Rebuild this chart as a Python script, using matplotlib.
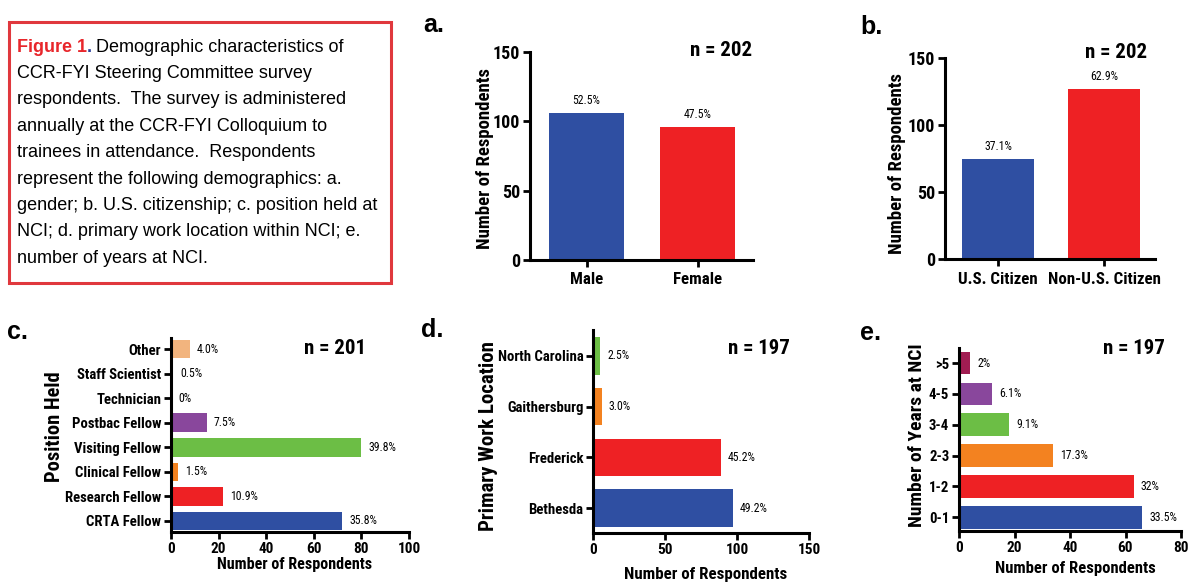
import matplotlib
matplotlib.use('Agg')
import matplotlib.pyplot as plt
from matplotlib.patches import Rectangle

W, H = 1189, 582

blue = '#2F4FA2'
red = '#EE2124'
orange = '#F38220'
green = '#6CBE45'
purple = '#89479C'
maroon = '#A11D52'
peach = '#F2B47E'
gray = '#8C8C8C'

# a. gender
gender_cats = ['Male', 'Female']
gender_vals = [106, 96]
gender_pct = ['52.5%', '47.5%']

# b. citizenship
cit_cats = ['U.S. Citizen', 'Non-U.S. Citizen']
cit_vals = [75, 127]
cit_pct = ['37.1%', '62.9%']

# c. position held (bottom to top)
pos_cats = ['CRTA Fellow', 'Research Fellow', 'Clinical Fellow', 'Visiting Fellow',
            'Postbac Fellow', 'Technician', 'Staff Scientist', 'Other']
pos_vals = [72, 22, 3, 80, 15, 0, 1, 8]
pos_pct = ['35.8%', '10.9%', '1.5%', '39.8%', '7.5%', '0%', '0.5%', '4.0%']
pos_colors = [blue, red, orange, green, purple, gray, gray, peach]

# d. work location
loc_cats = ['Bethesda', 'Frederick', 'Gaithersburg', 'North Carolina']
loc_vals = [97, 89, 6, 5]
loc_pct = ['49.2%', '45.2%', '3.0%', '2.5%']
loc_colors = [blue, red, orange, green]

# e. years at NCI
yrs_cats = ['0-1', '1-2', '2-3', '3-4', '4-5', '>5']
yrs_vals = [66, 63, 34, 18, 12, 4]
yrs_pct = ['33.5%', '32%', '17.3%', '9.1%', '6.1%', '2%']
yrs_colors = [blue, red, orange, green, purple, maroon]

COND = ['Roboto Condensed', 'Liberation Sans', 'DejaVu Sans']
plt.rcParams['font.family'] = COND

fig = plt.figure(figsize=(W / 100, H / 100), dpi=100)


def px_axes(x0, y0, x1, y1):
    return fig.add_axes([x0 / W, 1 - y1 / H, (x1 - x0) / W, (y1 - y0) / H])


def ftext(x, y, s, **kw):
    return fig.text(x / W, 1 - y / H, s, **kw)


def label(x, y, s, size, rot=0):
    ftext(x, y, s, fontsize=size, fontweight='bold', rotation=rot,
          ha='center', va='center')


def style(ax, size):
    for s in ['top', 'right']:
        ax.spines[s].set_visible(False)
    for s in ['left', 'bottom']:
        ax.spines[s].set_linewidth(2.2)
    ax.tick_params(width=2, length=5, labelsize=size, pad=2)
    for lab in ax.get_xticklabels() + ax.get_yticklabels():
        lab.set_fontweight('bold')


def vbar(ax, cats, vals, pct, colors, xlim):
    ax.bar(range(len(cats)), vals, width=0.68, color=colors)
    ax.set_xticks(range(len(cats)))
    ax.set_xticklabels(cats)
    ax.set_xlim(*xlim)
    ax.set_ylim(0, 150)
    ax.set_yticks([0, 50, 100, 150])
    style(ax, 13)
    ax.tick_params(axis='x', labelsize=12.2, pad=4)
    for i, (v, p) in enumerate(zip(vals, pct)):
        ax.annotate(p, (i, v), xytext=(0, 4), textcoords='offset points',
                    ha='center', va='bottom', fontsize=8.5)


def hbar(ax, cats, vals, pct, colors, xlim, ylim, xticks, h):
    ax.barh(range(len(cats)), vals, height=h, color=colors)
    ax.set_yticks(range(len(cats)))
    ax.set_yticklabels(cats)
    ax.set_xlim(*xlim)
    ax.set_ylim(*ylim)
    ax.set_xticks(xticks)
    style(ax, 11)
    ax.tick_params(axis='y', labelsize=10.6)
    for i, (v, p) in enumerate(zip(vals, pct)):
        ax.annotate(p, (v, i), xytext=(5, 0), textcoords='offset points',
                    ha='left', va='center', fontsize=8.5)


# panel a
axa = px_axes(530, 52, 753, 260)
vbar(axa, gender_cats, gender_vals, gender_pct, [blue, red], (-0.51, 1.5))
label(485, 159, 'Number of Respondents', 13.5, 90)

# panel b
axb = px_axes(945, 58, 1155, 259)
vbar(axb, cit_cats, cit_vals, cit_pct, [blue, red], (-0.5, 1.48))
label(897, 164, 'Number of Respondents', 13.5, 90)

# panel c
axc = px_axes(171, 338, 409, 532)
hbar(axc, pos_cats, pos_vals, pos_pct, pos_colors, (0, 100), (-0.45, 7.45),
     [0, 20, 40, 60, 80, 100], 0.76)
label(295, 564, 'Number of Respondents', 11.6)
label(55, 427, 'Position Held', 14.8, 90)

# panel d
axd = px_axes(593, 330, 809, 533)
hbar(axd, loc_cats, loc_vals, loc_pct, loc_colors, (0, 150), (-0.49, 3.51),
     [0, 50, 100, 150], 0.74)
label(706, 574, 'Number of Respondents', 12.2)
label(488, 436, 'Primary Work Location', 15, 90)

# panel e
axe = px_axes(959, 348, 1181, 531)
hbar(axe, yrs_cats, yrs_vals, yrs_pct, yrs_colors, (0, 80), (-0.45, 5.49),
     [0, 20, 40, 60, 80], 0.74)
label(1075, 568, 'Number of Respondents', 12)
label(917, 435, 'Number of Years at NCI', 14, 90)

# panel letters and n labels
for x, y, s in [(423, 25, 'a.'), (860, 27, 'b.'), (7, 332, 'c.'), (421, 330, 'd.'), (860, 333, 'e.')]:
    ftext(x, y, s, fontsize=18, fontweight='bold', va='center', ha='left',
          family=['Liberation Sans', 'DejaVu Sans'])
for x, y, s in [(752, 50, 'n = 202'), (1147, 52, 'n = 202'), (366, 348, 'n = 201'),
                (790, 348, 'n = 197'), (1165, 348, 'n = 197')]:
    ftext(x, y, s, fontsize=15, fontweight='bold', va='center', ha='right')

# caption box
fig.patches.append(Rectangle((9 / W, 1 - 283 / H), (391 - 9) / W, (283 - 22) / H,
                             transform=fig.transFigure, fill=False,
                             edgecolor='#E0383D', linewidth=2.2))
lines = [
    'Demographic characteristics of',
    'CCR-FYI Steering Committee survey',
    'respondents.  The survey is administered',
    'annually at the CCR-FYI Colloquium to',
    'trainees in attendance.  Respondents',
    'represent the following demographics: a.',
    'gender; b. U.S. citizenship; c. position held at',
    'NCI; d. primary work location within NCI; e.',
    'number of years at NCI.',
]
cap_font = ['Liberation Sans', 'DejaVu Sans']
fig.canvas.draw()
r = fig.canvas.get_renderer()
t1 = ftext(17, 47, 'Figure 1', fontsize=13, color='#E8262B', fontweight='bold',
           va='center', family=cap_font)
x = 17 + t1.get_window_extent(r).width
t2 = ftext(x, 47, '.', fontsize=13, color='#2B3E9A', fontweight='bold', va='center', family=cap_font)
x += t2.get_window_extent(r).width + 4
for i, ln in enumerate(lines):
    ftext(x if i == 0 else 17, 47 + i * 26.4, ln, fontsize=13, va='center', family=cap_font)

fig.savefig('out.png', dpi=100)
